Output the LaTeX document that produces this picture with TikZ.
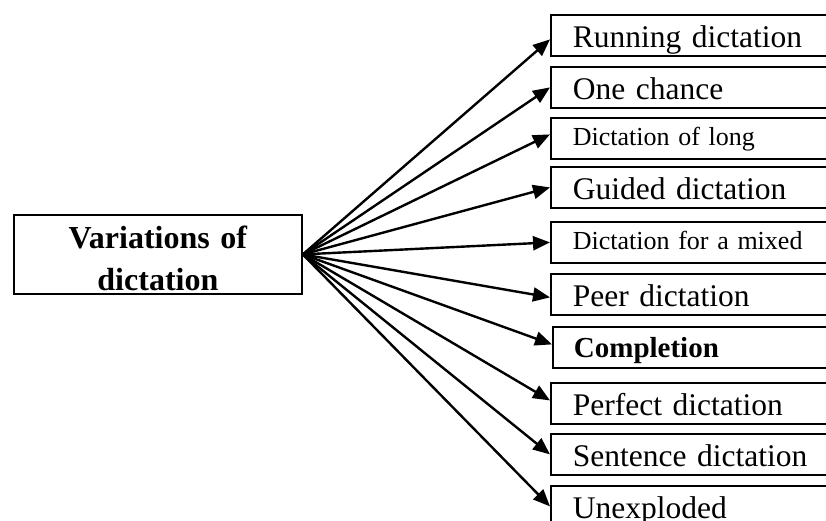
\documentclass[tikz,border=0pt]{standalone}
\usepackage{fontspec}
\setmainfont{Liberation Serif}
\usetikzlibrary{arrows.meta}

\tikzset{
  kind/.style={draw, line width=1.8pt, anchor=north west, inner ysep=0pt,
    inner xsep=22pt, text width=280pt, align=left,
    font=\fontsize{31.5}{36}\selectfont, text height=32.3pt, text depth=8.7pt},
  smallkind/.style={kind, font=\fontsize{26}{30}\selectfont,
    text height=27.5pt, text depth=13.5pt},
  boldkind/.style={kind, font=\bfseries\fontsize{29}{34}\selectfont,
    text height=31pt, text depth=10pt, inner xsep=21pt},
  arr/.style={line width=2.4pt, -{Triangle[length=17pt,width=14pt]}}
}

\begin{document}
\begin{tikzpicture}[x=1pt, y=-1pt]
  % page is 826 x 521, y runs downwards
  \useasboundingbox (0,0) rectangle (826,521);
  \node[draw, line width=1.8pt, anchor=north west, minimum width=288pt,
    text width=270pt, align=center, inner sep=0pt,
    font=\bfseries\fontsize{32}{42}\selectfont,
    text height=34pt, text depth=45pt] (var) at (13,214)
    {Variations of\\dictation};
  % the ten kinds, boxes run off the right edge
  \node[kind] (running) at (550,14) {Running dictation};
  \node[kind] (onechance) at (550,66) {One chance};
  \node[smallkind] (long) at (550,117) {Dictation of long};
  \node[kind] (guided) at (550,166) {Guided dictation};
  \node[smallkind] (mixed) at (550,221) {Dictation for a mixed};
  \node[kind] (peer) at (550,273) {Peer dictation};
  \node[boldkind] (completion) at (552,326) {Completion};
  \node[kind] (perfect) at (550,382) {Perfect dictation};
  \node[kind] (sentence) at (550,433) {Sentence dictation};
  \node[kind] (unexploded) at (550,485) {Unexploded};
  \draw[arr] (var.east) -- ([yshift=-4pt]running.west);
  \draw[arr] (var.east) -- (onechance.west);
  \draw[arr] (var.east) -- ([yshift=4pt]long.west);
  \draw[arr] (var.east) -- (guided.west);
  \draw[arr] (var.east) -- (mixed.west);
  \draw[arr] (var.east) -- ([yshift=-3pt]peer.west);
  \draw[arr] (var.east) -- ([yshift=3pt]completion.west);
  \draw[arr] (var.east) -- ([yshift=3pt]perfect.west);
  \draw[arr] (var.east) -- (sentence.west);
  \draw[arr] (var.east) -- (unexploded.west);
\end{tikzpicture}
\end{document}
